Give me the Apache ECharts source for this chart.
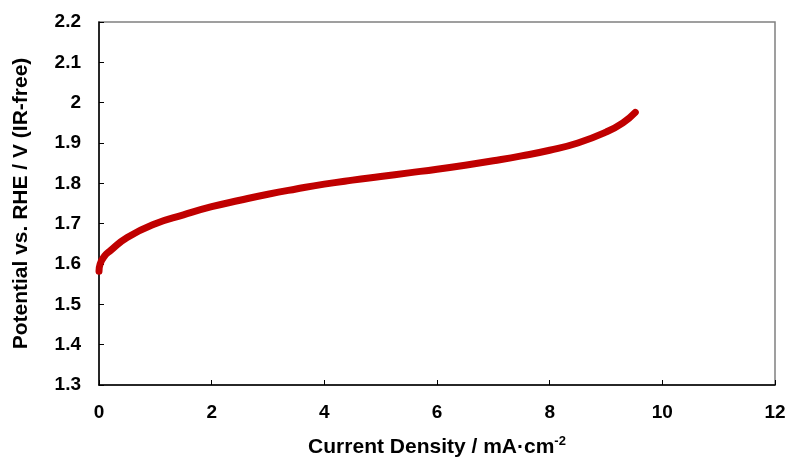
<!DOCTYPE html>
<html><head><meta charset="utf-8">
<script src="https://cdn.jsdelivr.net/npm/echarts@6/dist/echarts.min.js"></script>
<style>html,body{margin:0;padding:0;background:#fff}#c{width:790px;height:457px}</style>
</head><body><div id="c"></div>
<script>
const currentDensity = [0, 0.02, 0.1, 0.2, 0.5, 1.0, 1.5, 2.0, 2.5, 3.0, 3.5, 4.0, 4.5, 5.0, 5.5, 6.0, 6.5, 7.0, 7.5, 8.0, 8.5, 9.0, 9.3, 9.52];
const potential = [1.582, 1.600, 1.620, 1.633, 1.666, 1.700, 1.722, 1.742, 1.758, 1.773, 1.786, 1.798, 1.808, 1.817, 1.826, 1.835, 1.845, 1.856, 1.868, 1.882, 1.900, 1.927, 1.950, 1.976];
const xTicks = [0, 2, 4, 6, 8, 10, 12];
const yTicks = [1.3, 1.4, 1.5, 1.6, 1.7, 1.8, 1.9, 2.0, 2.1, 2.2];

const data = currentDensity.map((x, i) => [x, potential[i]]);
const font = 'Liberation Sans, Arial, sans-serif';
const chart = echarts.init(document.getElementById('c'), null, {renderer: 'canvas'});
chart.setOption({
  animation: false,
  grid: {left: 99, right: 15, top: 22, bottom: 72, show: true, borderColor: '#808080', borderWidth: 1.5,
    containLabel: false, outerBoundsMode: 'none'},
  xAxis: {
    type: 'value', min: xTicks[0], max: xTicks[xTicks.length - 1], interval: 2,
    axisLine: {lineStyle: {color: '#000', width: 1.5}},
    axisTick: {inside: true, length: 5, lineStyle: {color: '#000'}},
    splitLine: {show: false},
    axisLabel: {color: '#000', fontFamily: font, fontWeight: 'bold', fontSize: 19, margin: 18},
    name: '{a|Current Density / mA·cm}{s|-2}',
    nameLocation: 'middle', nameGap: 50,
    nameTextStyle: {
      rich: {
        a: {color: '#000', fontFamily: font, fontWeight: 'bold', fontSize: 21},
        s: {color: '#000', fontFamily: font, fontWeight: 'bold', fontSize: 13, verticalAlign: 'top', padding: [0, 0, 12, 0]}
      }
    }
  },
  yAxis: {
    type: 'value', min: yTicks[0], max: yTicks[yTicks.length - 1], interval: 0.1,
    axisLine: {show: true, lineStyle: {color: '#000', width: 1.5}},
    axisTick: {show: true, inside: true, length: 5, lineStyle: {color: '#000'}},
    splitLine: {show: false},
    axisLabel: {color: '#000', fontFamily: font, fontWeight: 'bold', fontSize: 19, margin: 18,
      formatter: v => String(parseFloat(v.toFixed(1)))},
    name: 'Potential vs. RHE / V (IR-free)',
    nameLocation: 'middle', nameGap: 67,
    nameTextStyle: {color: '#000', fontFamily: font, fontWeight: 'bold', fontSize: 21}
  },
  series: [{
    type: 'line', data: data, smooth: true, showSymbol: false,
    lineStyle: {color: '#C00000', width: 7, cap: 'round'}
  }]
});
</script></body></html>
